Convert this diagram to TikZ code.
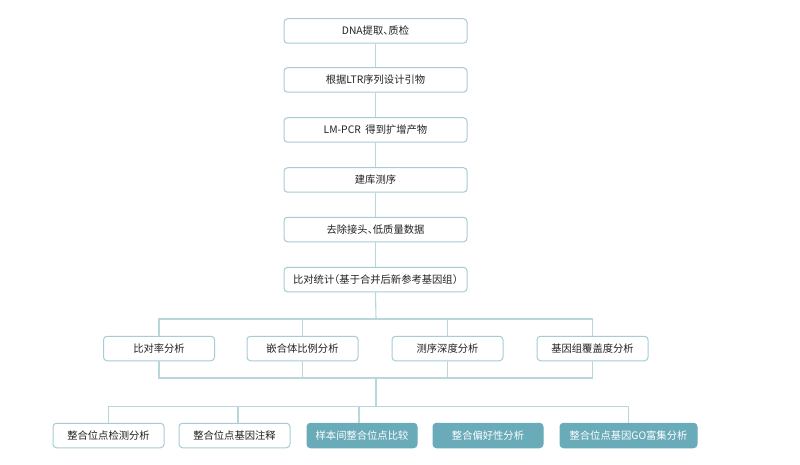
\documentclass[tikz,border=0pt]{standalone}
\usepackage{fontspec}
\setmainfont[RawFeature=+halt]{Noto Sans CJK SC}
\definecolor{linec}{HTML}{B9D6DD}
\definecolor{borderc}{HTML}{A8CBD4}
\definecolor{fillc}{HTML}{6AABBA}
\definecolor{textc}{HTML}{222222}
\begin{document}
\begin{tikzpicture}[x=1pt,y=-1pt,
  box/.style={draw=borderc,line width=1pt,rounded corners=3.5pt,fill=white,text=textc,
    font=\fontsize{10.3}{12}\selectfont,inner sep=0pt,minimum height=24.5pt},
  topbox/.style={box,minimum width=183pt},
  midbox/.style={box,minimum width=111pt},
  fbox/.style={box,draw=fillc,fill=fillc,text=white,minimum width=110pt},
  conn/.style={draw=linec,line width=1.1pt}]
\useasboundingbox (0,0) rectangle (800,465);
\node[topbox] (n1) at (375.5,31) {DNA提取、质检};
\node[topbox] (n2) at (375.5,80) {根据LTR序列设计引物};
\node[topbox] (n3) at (375.5,130) {LM-PCR\ \ 得到扩增产物};
\node[topbox] (n4) at (375.5,180) {建库测序};
\node[topbox] (n5) at (375.5,229.5) {去除接头、低质量数据};
\node[topbox] (n6) at (375.5,279.5) {比对统计（基于合并后新参考基因组）};
\node[midbox] (m1) at (159,348.5) {比对率分析};
\node[midbox] (m2) at (302.5,348.5) {嵌合体比例分析};
\node[midbox] (m3) at (447.5,348.5) {测序深度分析};
\node[midbox] (m4) at (592.5,348.5) {基因组覆盖度分析};
\node[midbox] (b1) at (108.5,435.5) {整合位点检测分析};
\node[midbox] (b2) at (234.5,435.5) {整合位点基因注释};
\node[fbox] (b3) at (362,435.5) {样本间整合位点比较};
\node[fbox] (b4) at (488,435.5) {整合偏好性分析};
\node[fbox,minimum width=137pt] (b5) at (628.5,435.5) {整合位点基因GO富集分析};
\coordinate (bus1) at (376,319);
\coordinate (bus2) at (376,378);
\coordinate (bus3) at (376,406.5);
\draw[conn] (n1) -- (n2);
\draw[conn] (n2) -- (n3);
\draw[conn] (n3) -- (n4);
\draw[conn] (n4) -- (n5);
\draw[conn] (n5) -- (n6);
\draw[conn] (n6.south) -- (bus1);
\draw[conn] (m1.north) |- (m4.north |- bus1) -- (m4.north);
\draw[conn] (m2.north) -- (m2.north |- bus1);
\draw[conn] (m3.north) -- (m3.north |- bus1);
\draw[conn] (m1.south) |- (m4.south |- bus2) -- (m4.south);
\draw[conn] (m2.south) -- (m2.south |- bus2);
\draw[conn] (m3.south) -- (m3.south |- bus2);
\draw[conn] (bus2) -- (bus3);
\draw[conn] (b1.north) |- (b5.north |- bus3) -- (b5.north);
\draw[conn] ([xshift=3.5pt]b2.north) -- ([xshift=3.5pt]b2.north |- bus3);
\draw[conn] ([xshift=-3pt]b3.north) -- ([xshift=-3pt]b3.north |- bus3);
\end{tikzpicture}
\end{document}
